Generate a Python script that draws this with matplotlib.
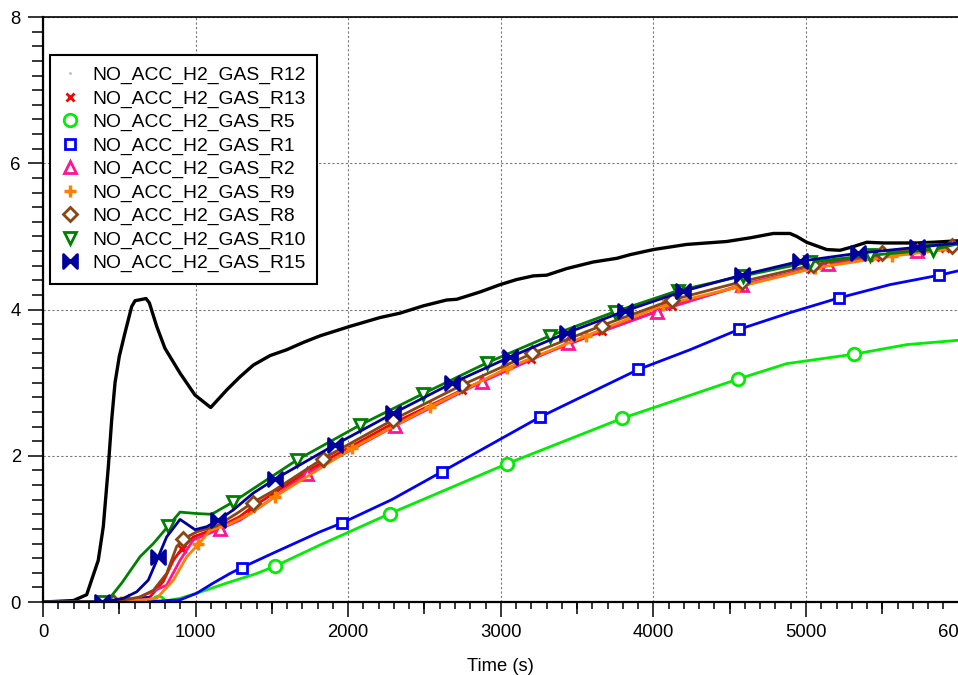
import numpy as np
import matplotlib
matplotlib.use("Agg")
import matplotlib.pyplot as plt
from matplotlib.lines import Line2D
from matplotlib.path import Path
from matplotlib.ticker import MultipleLocator

plt.rcParams["font.family"] = ["Liberation Sans", "DejaVu Sans"]

# ---- data (time in s, value) ----
labels = ["NO_ACC_H2_GAS_R12", "NO_ACC_H2_GAS_R13", "NO_ACC_H2_GAS_R5",
          "NO_ACC_H2_GAS_R1", "NO_ACC_H2_GAS_R2", "NO_ACC_H2_GAS_R9",
          "NO_ACC_H2_GAS_R8", "NO_ACC_H2_GAS_R10", "NO_ACC_H2_GAS_R15"]

r12_t = [0, 199, 286, 362, 395, 428, 450, 472, 500, 537, 581, 603, 675, 697, 745, 799,
         898, 996, 1099, 1204, 1291, 1378, 1488, 1597, 1706, 1815, 2012, 2208, 2339,
         2492, 2645, 2711, 2864, 2995, 3104, 3213, 3301, 3432, 3606, 3760, 3847, 4000,
         4218, 4480, 4633, 4786, 4895, 4939, 5004, 5136, 5223, 5310, 5398, 5507, 5725,
         5834, 6000]
r12_v = [0, 0.02, 0.10, 0.57, 1.03, 1.85, 2.49, 3.00, 3.36, 3.68, 4.04, 4.12, 4.15, 4.09,
         3.77, 3.47, 3.13, 2.83, 2.66, 2.90, 3.08, 3.24, 3.37, 3.45, 3.55, 3.64, 3.77,
         3.89, 3.95, 4.05, 4.13, 4.14, 4.24, 4.34, 4.41, 4.46, 4.47, 4.56, 4.65, 4.70,
         4.75, 4.82, 4.89, 4.93, 4.98, 5.04, 5.04, 5.00, 4.92, 4.82, 4.81, 4.86, 4.92,
         4.91, 4.91, 4.92, 4.94]
r12_m = []

r13_t = [0, 455, 636, 701, 788, 854, 909, 985, 1073, 1160, 1291, 1365, 1820, 2290, 2748,
         3200, 3661, 4120, 4567, 5030, 5452, 5910, 6000]
r13_v = [0, 0, 0.04, 0.07, 0.28, 0.57, 0.73, 0.89, 0.96, 1.03, 1.17, 1.29, 1.90, 2.44,
         2.90, 3.33, 3.70, 4.05, 4.32, 4.56, 4.72, 4.84, 4.86]
r13_m = [455, 909, 1365, 1820, 2290, 2748, 3200, 3661, 4120, 4567, 5030, 5452, 5910]

r5_t = [0, 756, 898, 1007, 1204, 1400, 1520, 1815, 2274, 3039, 3792, 4556, 4873, 5317,
        5660, 6000]
r5_v = [0, 0, 0.05, 0.12, 0.26, 0.39, 0.49, 0.78, 1.21, 1.89, 2.51, 3.05, 3.26, 3.39,
        3.52, 3.58]
r5_m = [756, 1520, 2274, 3039, 3792, 4556, 5317]

r1_t = [0, 653, 898, 1007, 1116, 1225, 1302, 1509, 1815, 1958, 2285, 2613, 3257, 3901,
        4240, 4563, 4884, 5218, 5550, 5874, 6000]
r1_v = [0, 0, 0.03, 0.12, 0.26, 0.39, 0.47, 0.67, 0.96, 1.08, 1.40, 1.78, 2.53, 3.18,
        3.45, 3.73, 3.95, 4.16, 4.34, 4.47, 4.53]
r1_m = [653, 1302, 1958, 2613, 3257, 3901, 4563, 5218, 5874]

r2_t = [0, 559, 636, 810, 898, 985, 1160, 1291, 1422, 1728, 2307, 2875, 3442, 4021,
        4578, 5146, 5725, 6000]
r2_v = [0, 0, 0.07, 0.23, 0.57, 0.85, 1.00, 1.12, 1.30, 1.75, 2.41, 3.01, 3.54, 3.97,
        4.34, 4.62, 4.80, 4.85]
r2_m = [559, 1160, 1728, 2307, 2875, 3442, 4021, 4578, 5146, 5725]

r9_t = [0, 510, 745, 854, 942, 1018, 1094, 1204, 1357, 1520, 2023, 2536, 3043, 3558,
        4065, 4556, 5061, 5566, 6000]
r9_v = [0, 0, 0.05, 0.30, 0.62, 0.79, 0.98, 1.05, 1.21, 1.44, 2.10, 2.67, 3.20, 3.64,
        4.06, 4.31, 4.57, 4.73, 4.84]
r9_m = [510, 1018, 1520, 2023, 2536, 3043, 3558, 4065, 4556, 5061, 5566]

r8_t = [0, 461, 636, 723, 810, 876, 919, 1007, 1138, 1269, 1374, 1509, 1833, 2292, 2748,
        3207, 3661, 4120, 4578, 5048, 5496, 5955, 6000]
r8_v = [0, 0, 0.07, 0.16, 0.39, 0.76, 0.86, 0.96, 1.04, 1.21, 1.36, 1.52, 1.96, 2.49,
        2.97, 3.40, 3.78, 4.13, 4.38, 4.61, 4.77, 4.87, 4.88]
r8_m = [461, 919, 1374, 1833, 2292, 2748, 3207, 3661, 4120, 4578, 5048, 5496, 5955]

r10_t = [0, 385, 417, 516, 636, 723, 821, 898, 1007, 1105, 1247, 1400, 1662, 2077, 2492,
         2908, 3322, 3748, 4163, 4589, 5026, 5419, 5834, 6000]
r10_v = [0, 0, 0, 0.26, 0.62, 0.80, 1.04, 1.23, 1.21, 1.20, 1.37, 1.58, 1.94, 2.42, 2.85,
         3.27, 3.64, 3.97, 4.26, 4.46, 4.65, 4.74, 4.82, 4.90]
r10_m = [385, 821, 1247, 1662, 2077, 2492, 2908, 3322, 3748, 4163, 4589, 5026, 5419, 5834]

r15_t = [0, 385, 526, 614, 690, 756, 810, 898, 996, 1073, 1149, 1247, 1378, 1520, 1913,
         2295, 2678, 3060, 3432, 3814, 4196, 4578, 4961, 5343, 5725, 6000]
r15_v = [0, 0, 0.05, 0.14, 0.30, 0.62, 0.89, 1.13, 0.99, 1.03, 1.12, 1.26, 1.49, 1.68,
         2.15, 2.58, 2.99, 3.35, 3.68, 3.98, 4.25, 4.47, 4.66, 4.77, 4.85, 4.91]
r15_m = [385, 756, 1149, 1520, 1913, 2295, 2678, 3060, 3432, 3814, 4196, 4578, 4961,
         5343, 5725]

# bowtie marker: two filled triangles meeting at the centre
bowtie = Path([(-1, -1), (-1, 1), (0, 0), (-1, -1), (1, -1), (1, 1), (0, 0), (1, -1)],
              [Path.MOVETO, Path.LINETO, Path.LINETO, Path.CLOSEPOLY,
               Path.MOVETO, Path.LINETO, Path.LINETO, Path.CLOSEPOLY])

# (t, v, marker times, colour, marker, size, face colour, line width)
series = [
    (r12_t, r12_v, r12_m, "black", ".", 1, "black", 2.4),
    (r13_t, r13_v, r13_m, "#ff0000", "x", 6, "#ff0000", 2.0),
    (r5_t, r5_v, r5_m, "#00ee00", "o", 9, "white", 2.0),
    (r1_t, r1_v, r1_m, "#0000ff", "s", 7.5, "white", 2.0),
    (r2_t, r2_v, r2_m, "#ff1493", "^", 9, "white", 2.0),
    (r9_t, r9_v, r9_m, "#ff8000", "+", 9, "#ff8000", 2.0),
    (r8_t, r8_v, r8_m, "#8b4513", "D", 7.5, "white", 2.0),
    (r10_t, r10_v, r10_m, "#008000", "v", 9, "white", 2.0),
    (r15_t, r15_v, r15_m, "#00009c", bowtie, 10, "#00009c", 2.0),
]

fig = plt.figure(figsize=(9.58, 6.75), dpi=100)
ax = fig.add_axes([0.0449, 0.1081, 0.9557, 0.8667])

handles = []
for (t, v, m, color, marker, ms, face, lw), label in zip(series, labels):
    idx = np.flatnonzero(np.isin(t, m)).tolist()
    mew = 2.5 if marker == "+" else 2.0
    ax.plot(t, v, color=color, lw=lw, marker=marker if idx else "None",
            markevery=idx if idx else None, markersize=ms, markerfacecolor=face,
            markeredgecolor=color, markeredgewidth=mew)
    if marker == ".":
        h = Line2D([], [], ls="none", marker=".", markersize=2, color="#bbbbbb", label=label)
    else:
        h = Line2D([], [], ls="none", marker=marker, markersize=ms, color=color,
                   markerfacecolor=face, markeredgecolor=color, markeredgewidth=mew,
                   label=label)
    handles.append(h)

ax.set_xlim(0, 6000)
ax.set_ylim(0, 8)
ax.xaxis.set_major_locator(MultipleLocator(1000))
ax.xaxis.set_minor_locator(MultipleLocator(100))
ax.yaxis.set_major_locator(MultipleLocator(2))
ax.yaxis.set_minor_locator(MultipleLocator(0.2))
ax.tick_params(which="major", direction="out", length=11, width=1.1, labelsize=13.3, pad=5)
ax.tick_params(axis="x", which="minor", direction="out", length=5, width=1.1)
ax.tick_params(axis="y", which="minor", direction="out", length=8, width=1.1)

# medium ticks at the half-thousands
sec = ax.secondary_xaxis("bottom")
sec.set_xticks(np.arange(500, 6000, 1000))
sec.tick_params(direction="out", length=8.5, width=1.1, labelbottom=False)
sec.spines["bottom"].set_visible(False)

ax.grid(True, which="major", color="#777777", linestyle=(0, (2, 2)), linewidth=0.8)
ax.spines["right"].set_visible(False)
ax.spines["bottom"].set_linewidth(1.6)
ax.spines["left"].set_linewidth(1.6)
ax.spines["top"].set_linewidth(1.2)

ax.set_xlabel("Time (s)", fontsize=13.2, labelpad=12)

leg = ax.legend(handles=handles, loc="upper left", bbox_to_anchor=(0.0076, 0.935),
                borderaxespad=0, fontsize=13.9, frameon=True, fancybox=False,
                edgecolor="black", framealpha=1, labelspacing=0.3, handlelength=0.85,
                handletextpad=0.73, borderpad=0.6)
leg.get_frame().set_linewidth(1.5)

fig.savefig("out.png", dpi=100)
